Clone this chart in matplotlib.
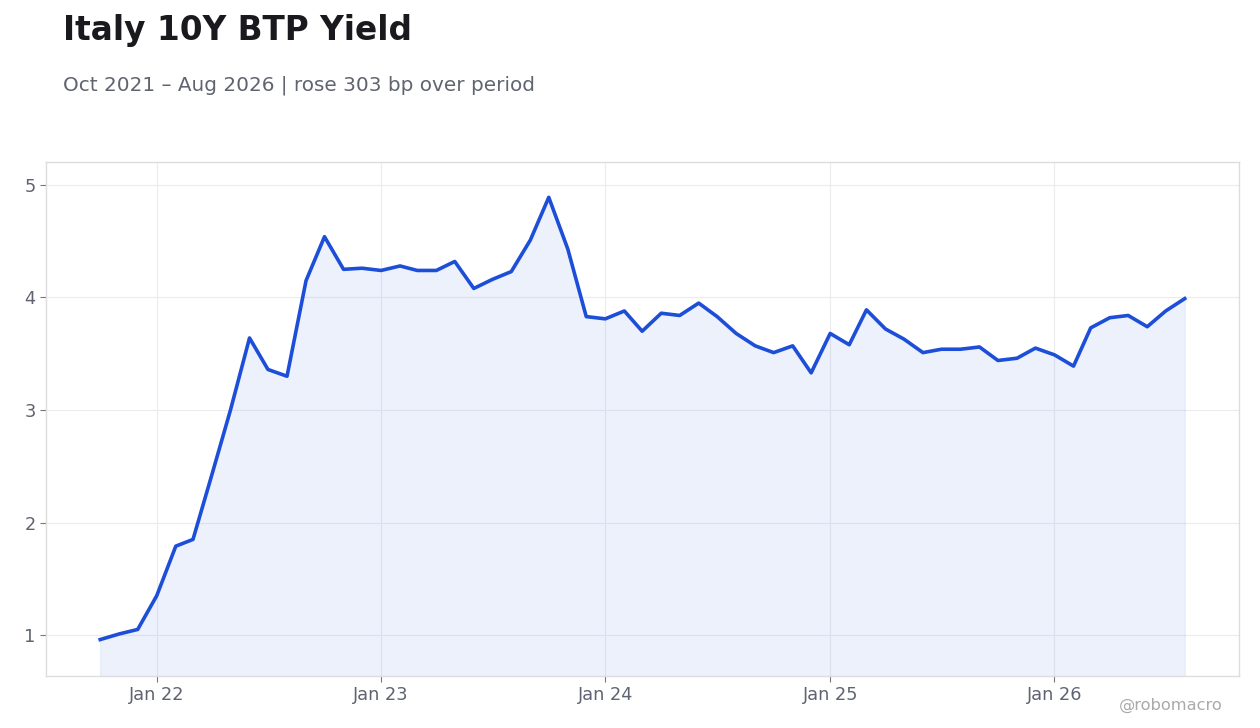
import matplotlib.pyplot as plt
import matplotlib.dates as mdates
import numpy as np
import pandas as pd

# monthly Italy 10Y BTP yield, %
months = pd.date_range('2021-10-01', '2026-08-01', freq='MS')
yields = [
    0.96, 1.01, 1.05,
    1.35, 1.79, 1.85, 2.43, 3.00, 3.64, 3.36, 3.30, 4.15, 4.54, 4.25, 4.26,
    4.24, 4.28, 4.24, 4.24, 4.32, 4.08, 4.16, 4.23, 4.51, 4.89, 4.43, 3.83,
    3.81, 3.88, 3.70, 3.86, 3.84, 3.95, 3.83, 3.68, 3.57, 3.51, 3.57, 3.33,
    3.68, 3.58, 3.89, 3.72, 3.63, 3.51, 3.54, 3.54, 3.56, 3.44, 3.46, 3.55,
    3.49, 3.39, 3.73, 3.82, 3.84, 3.74, 3.88, 3.99,
]
title = 'Italy 10Y BTP Yield'
subtitle = 'Oct 2021 \u2013 Aug 2026 | rose 303 bp over period'

line_col = '#1d4ed8'
text_col = '#5f6470'
y_bottom, y_top = 0.636, 5.204

fig = plt.figure(figsize=(12.6, 7.28), dpi=100)
ax = fig.add_axes([0.0365, 0.0714, 0.9468, 0.7061])

ax.plot(months, yields, color=line_col, linewidth=2.6, zorder=3)
ax.fill_between(months, yields, y_bottom, color=line_col, alpha=0.08, linewidth=0.8, zorder=2)

ax.set_ylim(y_bottom, y_top)
ax.set_yticks([1, 2, 3, 4, 5])
ax.xaxis.set_major_locator(mdates.YearLocator(month=1))
ax.xaxis.set_major_formatter(mdates.DateFormatter('%b %y'))
ax.margins(x=0.05)

ax.grid(True, color='#ececf0', linewidth=0.8, zorder=0)
ax.set_axisbelow(True)
for s in ax.spines.values():
    s.set_color('#dddddd')
    s.set_linewidth(1.0)
ax.tick_params(colors='#777777', labelcolor=text_col, labelsize=12.8, length=4, width=0.8)

fig.text(0.05, 0.945, title, fontsize=23.6, fontweight='bold', color='#1a1a1e', va='baseline')
fig.text(0.05, 0.876, subtitle, fontsize=14.4, color=text_col, va='baseline')
fig.text(0.97, 0.025, '@robomacro', fontsize=11.7, color='#aaaaaa', ha='right', va='baseline')

fig.savefig('out.png', dpi=100)
